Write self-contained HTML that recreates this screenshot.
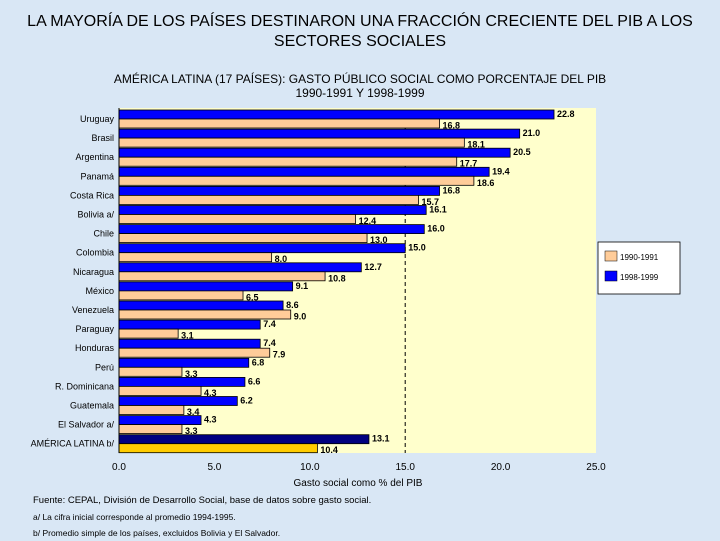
<!DOCTYPE html>
<html><head><meta charset="utf-8"><style>
body{margin:0;width:720px;height:540px;background:#d9e7f5;font-family:"Liberation Sans",sans-serif;overflow:hidden;position:relative}
.t{position:absolute;left:0;width:720px;text-align:center;color:#000}
</style></head><body>
<div class="t" style="top:12px;font-size:16px;line-height:20px">LA MAYORÍA DE LOS PAÍSES DESTINARON UNA FRACCIÓN CRECIENTE DEL PIB A LOS<br>SECTORES SOCIALES</div>
<div class="t" style="top:72px;font-size:12px;line-height:14px">AMÉRICA LATINA (17 PAÍSES): GASTO PÚBLICO SOCIAL COMO PORCENTAJE DEL PIB<br>1990-1991 Y 1998-1999</div>
<svg id="c" width="720" height="540" style="position:absolute;left:0;top:0"></svg>
<div style="position:absolute;left:33px;top:494px;font-size:9.5px;line-height:14px">Fuente: CEPAL, División de Desarrollo Social, base de datos sobre gasto social.<br><span style="font-size:8.5px;line-height:18px">a/ La cifra inicial corresponde al promedio 1994-1995.</span><br><span style="font-size:8.5px">b/ Promedio simple de los países, excluidos Bolivia y El Salvador.</span></div>
<script>
const categories=["Uruguay","Brasil","Argentina","Panamá","Costa Rica","Bolivia a/","Chile","Colombia","Nicaragua","México","Venezuela","Paraguay","Honduras","Perú","R. Dominicana","Guatemala","El Salvador a/","AMÉRICA LATINA b/"];
const values1998=[22.8,21.0,20.5,19.4,16.8,16.1,16.0,15.0,12.7,9.1,8.6,7.4,7.4,6.8,6.6,6.2,4.3,13.1];
const values1990=[16.8,18.1,17.7,18.6,15.7,12.4,13.0,8.0,10.8,6.5,9.0,3.1,7.9,3.3,4.3,3.4,3.3,10.4];
const ticks=[0,5,10,15,20,25];
const svg=document.getElementById('c');const NS='http://www.w3.org/2000/svg';
function mk(t,a,p){const e=document.createElementNS(NS,t);for(const k in a)e.setAttribute(k,a[k]);(p||svg).appendChild(e);return e;}
const x0=119,x1=596,yTop=108,yBot=453;
const xs=v=>x0+(v/25)*(x1-x0);
const rowY=i=>110+i*19.1;
const bg=mk('rect',{x:x0,y:yTop,width:x1-x0,height:yBot-yTop,fill:'#ffffcc'});


const dl=mk('line',{x1:xs(15),x2:xs(15),y1:128,y2:yBot,stroke:'#000','stroke-dasharray':'4,3','stroke-width':1});


categories.forEach((c,i)=>{
 const y=rowY(i);const last=i===categories.length-1;
 const b=mk('rect',{x:x0,y:y,width:xs(values1998[i])-x0,height:9,fill:last?'#000080':'#0000ff',stroke:'#000','stroke-width':0.8});
 
 
 const p=mk('rect',{x:x0,y:y+9,width:xs(values1990[i])-x0,height:9,fill:last?'#ffcc00':'#ffcc99',stroke:'#000','stroke-width':0.8});
 
 
 const l=mk('text',{x:114,y:y+12,'text-anchor':'end','font-size':9,fill:'#000'});l.textContent=c;
 
 
 const t1=mk('text',{x:xs(values1998[i])+3,y:y+7,'font-size':9,'font-weight':'bold'});t1.textContent=values1998[i].toFixed(1);
 
 
 const t2=mk('text',{x:xs(values1990[i])+3,y:y+18.5,'font-size':9,'font-weight':'bold'});t2.textContent=values1990[i].toFixed(1);
 
 
});
mk('line',{x1:x0,x2:x0,y1:yTop,y2:yBot,stroke:'#000'});
ticks.forEach(v=>{const t=mk('text',{x:xs(v),y:470,'text-anchor':'middle','font-size':10});t.textContent=v.toFixed(1);
 
 });
const xt=mk('text',{x:358,y:486,'text-anchor':'middle','font-size':10});xt.textContent='Gasto social como % del PIB';


const lg=mk('g',{});


mk('rect',{x:598,y:242,width:82,height:52,fill:'#fff',stroke:'#000','stroke-width':0.8},lg);
mk('rect',{x:605,y:251,width:12,height:10,fill:'#ffcc99',stroke:'#000','stroke-width':0.5},lg);
mk('rect',{x:605,y:271,width:12,height:10,fill:'#0000ff',stroke:'#000','stroke-width':0.5},lg);
const a=mk('text',{x:620,y:260,'font-size':8},lg);a.textContent='1990-1991';
const b2=mk('text',{x:620,y:280,'font-size':8},lg);b2.textContent='1998-1999';
</script>
</body></html>
